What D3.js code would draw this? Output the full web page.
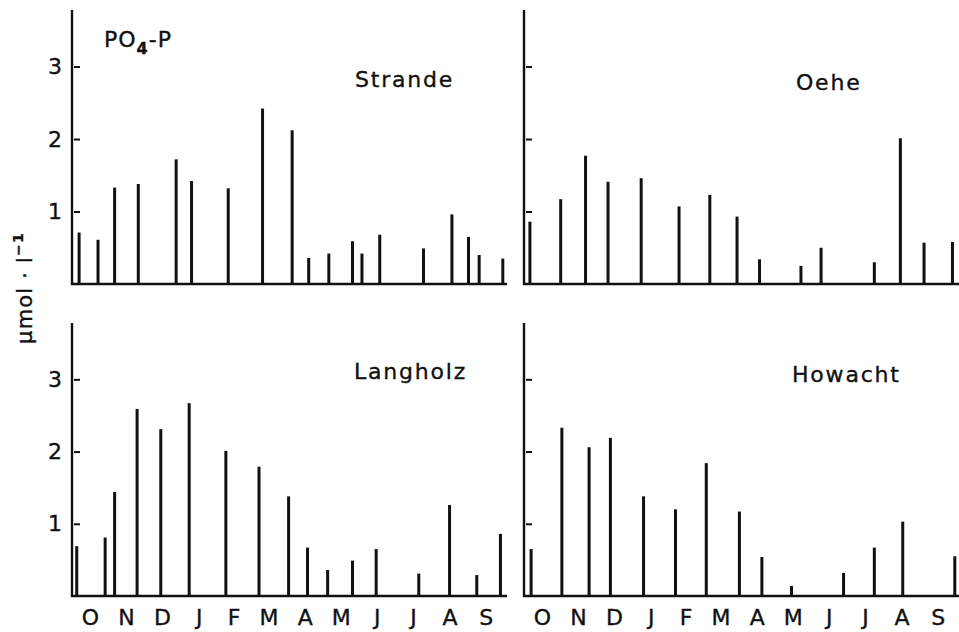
<!DOCTYPE html>
<html>
<head>
<meta charset="utf-8">
<script src="https://cdn.jsdelivr.net/npm/d3@7"></script>
<style>
  html, body { margin: 0; padding: 0; background: #fff; }
  svg { display: block; font-family: "DejaVu Sans", sans-serif; }
  .lettering { stroke: #111; stroke-width: 0.35px; }
</style>
</head>
<body>
<svg id="chart" width="959" height="632"></svg>
<script>
// Hydrographic year, October to September
const months = ["O", "N", "D", "J", "F", "M", "A", "M", "J", "J", "A", "S"];
const monthDays = [31, 30, 31, 31, 28, 31, 30, 31, 30, 31, 31, 30];
const yTicks = [1, 2, 3];

// Sampling day (days after 1 October) and PO4-P concentration, µmol/l
const strandeDay   = [6, 22, 36, 56, 88, 101, 132, 161, 186, 200, 217, 237, 245, 260, 297, 321, 335, 344, 364];
const strandeValue = [0.71, 0.61, 1.33, 1.38, 1.72, 1.42, 1.32, 2.42, 2.12, 0.36, 0.42, 0.59, 0.42, 0.68, 0.49, 0.96, 0.65, 0.40, 0.35];

const oeheDay   = [5, 31, 52, 71, 99, 131, 157, 180, 199, 234, 251, 296, 318, 338, 362];
const oeheValue = [0.86, 1.17, 1.77, 1.41, 1.46, 1.07, 1.23, 0.93, 0.34, 0.25, 0.50, 0.30, 2.01, 0.57, 0.58];

const langholzDay   = [4, 28, 36, 55, 75, 99, 130, 158, 183, 199, 216, 237, 257, 293, 319, 342, 362];
const langholzValue = [0.69, 0.81, 1.44, 2.59, 2.31, 2.67, 2.01, 1.79, 1.38, 0.67, 0.36, 0.49, 0.65, 0.31, 1.26, 0.29, 0.86];

const howachtDay   = [6, 32, 55, 73, 101, 128, 154, 182, 201, 226, 270, 296, 320, 364];
const howachtValue = [0.65, 2.33, 2.06, 2.19, 1.38, 1.20, 1.84, 1.17, 0.54, 0.14, 0.32, 0.67, 1.03, 0.55];

const panels = [
  { name: "Strande",  day: strandeDay,  value: strandeValue,  col: 0, row: 0, tx: 283, ty: 77 },
  { name: "Oehe",     day: oeheDay,     value: oeheValue,     col: 1, row: 0, tx: 272, ty: 80 },
  { name: "Langholz", day: langholzDay, value: langholzValue, col: 0, row: 1, tx: 282, ty: 56 },
  { name: "Howacht",  day: howachtDay,  value: howachtValue,  col: 1, row: 1, tx: 268, ty: 59 }
];

const svg = d3.select("#chart");
const ink = "#111";

const xRanges = [[72, 504], [524, 956]];
const yRanges = [[284, 10], [596, 323]];
const yMax = 3.78;
const yearDays = d3.sum(monthDays);

// month centres for the labels
const monthStart = d3.cumsum([0].concat(monthDays.slice(0, -1)));
const monthMid = monthStart.map((s, i) => s + monthDays[i] / 2);

panels.forEach(p => {
  const x = d3.scaleLinear().domain([0, yearDays]).range(xRanges[p.col]);
  const y = d3.scaleLinear().domain([0, yMax]).range(yRanges[p.row]);
  const g = svg.append("g");
  const x0 = x.range()[0];

  // vertical axis line
  g.append("line")
    .attr("x1", x0).attr("x2", x0)
    .attr("y1", y(0) + 1).attr("y2", y(yMax))
    .attr("stroke", ink).attr("stroke-width", 2.4);

  // baseline
  g.append("line")
    .attr("x1", x0 - 1).attr("x2", x.range()[1] + 3)
    .attr("y1", y(0)).attr("y2", y(0))
    .attr("stroke", ink).attr("stroke-width", 2.4);

  // inward tick marks
  const tickAxis = g.append("g")
    .attr("transform", `translate(${x0 + 2},0)`)
    .call(d3.axisRight(y).tickValues(yTicks).tickSize(6).tickFormat(""));
  tickAxis.select(".domain").remove();
  tickAxis.selectAll(".tick line").attr("stroke", ink).attr("stroke-width", 2);

  // tick labels on the left column only
  if (p.col === 0) {
    const lab = g.append("g")
      .attr("transform", `translate(${x0},0)`)
      .call(d3.axisLeft(y).tickValues(yTicks).tickSize(0).tickPadding(10).tickFormat(d3.format("d")));
    lab.select(".domain").remove();
    lab.selectAll("text")
      .attr("class", "lettering")
      .attr("fill", ink)
      .style("font-family", "'DejaVu Sans', sans-serif")
      .style("font-size", "22px");
  }

  // concentration bars
  g.selectAll("line.bar")
    .data(d3.zip(p.day, p.value))
    .join("line")
    .attr("class", "bar")
    .attr("x1", d => x(d[0])).attr("x2", d => x(d[0]))
    .attr("y1", y(0)).attr("y2", d => y(d[1]))
    .attr("stroke", ink).attr("stroke-width", 3);

  // station name
  g.append("text")
    .attr("class", "lettering")
    .attr("x", x0 + p.tx).attr("y", y(yMax) + p.ty)
    .attr("fill", ink)
    .style("font-size", "22px")
    .style("letter-spacing", "1.8px")
    .text(p.name);

  // month letters along the bottom row
  if (p.row === 1) {
    g.selectAll("text.month")
      .data(months)
      .join("text")
      .attr("class", "month lettering")
      .attr("x", (d, i) => x(monthMid[i]))
      .attr("y", y(0) + 29)
      .attr("text-anchor", "middle")
      .attr("fill", ink)
      .style("font-size", "22px")
      .text(d => d);
  }
});

// parameter label
const param = svg.append("text")
  .attr("class", "lettering")
  .attr("x", 104).attr("y", 47)
  .attr("fill", ink)
  .style("font-size", "22px")
  .style("letter-spacing", "1px");
param.append("tspan").text("PO");
param.append("tspan").attr("dy", 7).style("font-size", "16px").style("font-weight", "bold").text("4");
param.append("tspan").attr("dy", -7).text("-P");

// unit label
const unit = svg.append("text")
  .attr("class", "lettering")
  .attr("transform", "translate(32,288) rotate(-90)")
  .attr("text-anchor", "middle")
  .attr("fill", ink)
  .style("font-size", "21px")
  .style("letter-spacing", "1.2px");
unit.append("tspan").text("µmol · l");
unit.append("tspan").attr("dy", -9).style("font-size", "14px").style("font-weight", "bold").text("−1");
</script>
</body>
</html>
